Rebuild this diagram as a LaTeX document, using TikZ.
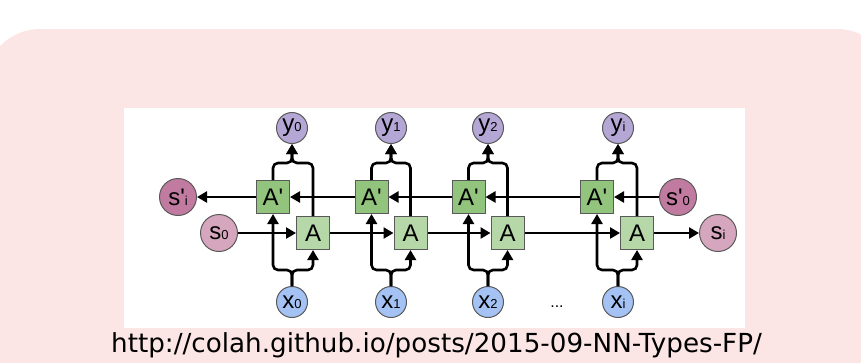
\documentclass[tikz,border=0pt]{standalone}
\usepackage{fontspec}
\usetikzlibrary{arrows.meta}
\newfontfamily\labfont{Liberation Sans}
\newfontfamily\urlfont{DejaVu Sans}
% small index written on the baseline
\newcommand\sbs[1]{{\fontsize{13}{13}\selectfont #1}}
\newcommand\prm{\textquotesingle}
\definecolor{bgpink}{HTML}{FCE5E5}
\definecolor{edgegray}{HTML}{595959}
\definecolor{cellout}{HTML}{93C47D}
\definecolor{cellin}{HTML}{B6D7A8}
\definecolor{ycol}{HTML}{B4A7D6}
\definecolor{xcol}{HTML}{A4C2F4}
\definecolor{scol}{HTML}{D5A6BD}
\definecolor{sbcol}{HTML}{C27BA0}
\begin{document}
\begin{tikzpicture}[x=1pt,y=-1pt,
  lab/.style={font=\labfont\fontsize{24}{24}\selectfont, text=black},
  cell/.style={lab, rectangle, draw=edgegray, line width=1pt, minimum size=33pt, inner sep=0pt},
  bwdcell/.style={cell, fill=cellout},
  fwdcell/.style={cell, fill=cellin},
  io/.style={lab, circle, draw=edgegray, line width=1pt, inner sep=0pt, minimum size=31pt},
  outnode/.style={io, fill=ycol},
  innode/.style={io, fill=xcol},
  state/.style={io, minimum size=37pt, fill=scol},
  bstate/.style={io, minimum size=37pt, fill=sbcol},
  conn/.style={line width=2.6pt, black},
  arr/.style={conn, -{Triangle[length=10pt,width=11pt]}}
]
\useasboundingbox (0,0) rectangle (861,362);
\clip (0,0) rectangle (861,362);
% backdrop and panel
\fill[bgpink, rounded corners=55pt] (-15,29) rectangle (892,430);
\fill[white] (124,108) rectangle (745,328);

% unrolled bidirectional cells
\foreach \k/\c/\p/\a/\s in {0/292/273/313/0, 1/391/371.5/410.5/1, 2/488/468.5/507.5/2, 3/618/597/637/i}{
  \node[bwdcell] (Ap\k) at (\p,197) {A\prm};
  \node[fwdcell] (A\k) at (\a,233) {A};
  \node[outnode] (y\k) at (\c,128) {y\sbs{\s}};
  \node[innode] (x\k) at (\c,302) {x\sbs{\s}};
  \draw[arr, rounded corners=5pt] (x\k.north) -- (\c,270) -| (Ap\k.south);
  \draw[arr, rounded corners=5pt] (x\k.north) -- (\c,270) -| (A\k.south);
  \draw[arr, rounded corners=5pt] (Ap\k.north) |- (\c,163) -- (y\k.south);
  \draw[arr, rounded corners=5pt] (A\k.north) |- (\c,163) -- (y\k.south);
}

% boundary states
\node[bstate] (sbi) at (178,197) {s\prm\sbs{i}};
\node[state] (s0) at (219,233) {s\sbs{0}};
\node[bstate] (sb0) at (678,197) {s\prm\sbs{0}};
\node[state] (si) at (718,233) {s\sbs{i}};

% forward chain
\draw[arr] (s0.east) -- (A0.west);
\draw[arr] (A0.east) -- (A1.west);
\draw[arr] (A1.east) -- (A2.west);
\draw[arr] (A2.east) -- (A3.west);
\draw[arr] (A3.east) -- (si.west);
% backward chain
\draw[arr] (sb0.west) -- (Ap3.east);
\draw[arr] (Ap3.west) -- (Ap2.east);
\draw[arr] (Ap2.west) -- (Ap1.east);
\draw[arr] (Ap1.west) -- (Ap0.east);
\draw[arr] (Ap0.west) -- (sbi.east);

\node[font=\labfont\fontsize{16}{16}\selectfont, anchor=base] (dots) at (557,307) {...};

\node[font=\urlfont\fontsize{26.2}{28}\selectfont, anchor=base, inner sep=0pt] (url) at (436.5,352) {http://colah.github.io/posts/2015-09-NN-Types-FP/};
\end{tikzpicture}
\end{document}
